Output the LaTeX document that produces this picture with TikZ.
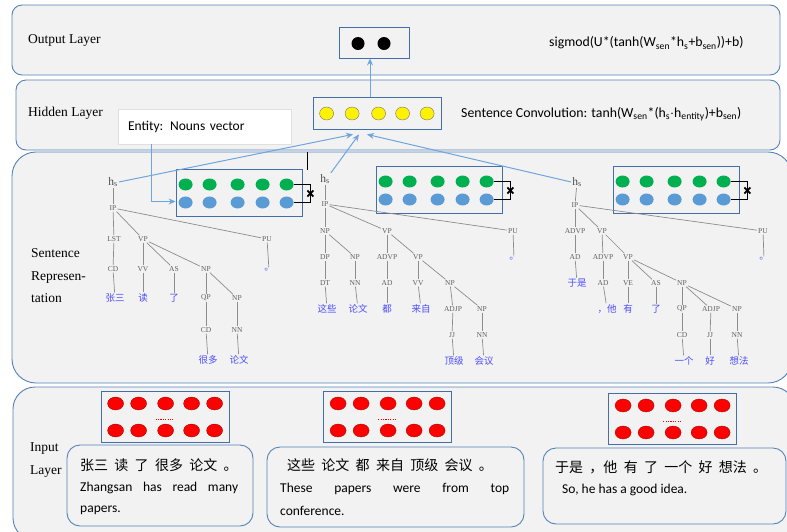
\documentclass[tikz,border=0pt]{standalone}
\usepackage{fontspec}
\usetikzlibrary{arrows.meta}
\setmainfont{Liberation Serif}
\newfontfamily\calfont{Carlito}
\newfontfamily\cjk[WordSpace=2]{Noto Sans CJK SC}
\definecolor{layerline}{RGB}{84,130,182}
\definecolor{layerfill}{RGB}{242,242,242}
\definecolor{boxline}{RGB}{68,110,170}
\definecolor{arrowblue}{RGB}{110,165,220}
\definecolor{vgreen}{RGB}{0,176,80}
\definecolor{vblue}{RGB}{91,155,213}
\definecolor{tagcol}{RGB}{96,96,96}
\definecolor{branchcol}{RGB}{140,140,140}
\definecolor{leafcol}{RGB}{77,77,255}
\begin{document}
\begin{tikzpicture}[x=1pt, y=-1pt,
    every node/.style={inner sep=1pt},
    layerbox/.style={draw=layerline, fill=layerfill, line width=0.9pt},
    layername/.style={anchor=west, align=left, font=\fontsize{13.5}{22.5}\selectfont},
    formula/.style={anchor=west, font=\calfont\fontsize{13.8}{15}\selectfont},
    vecbox/.style={draw=boxline, line width=0.8pt, minimum width=126, minimum height=47},
    inbox/.style={draw=boxline, line width=0.8pt, minimum width=128, minimum height=51},
    textbox/.style={draw=layerline, fill=layerfill, line width=0.9pt, rounded corners=13},
    zhline/.style={anchor=west, font=\cjk\fontsize{14}{16}\selectfont},
    enline/.style={anchor=west, font=\calfont\fontsize{13.5}{16}\selectfont},
    tagname/.style={text=tagcol, font=\fontsize{7.5}{8}\selectfont},
    leaf/.style={text=leafcol, font=\cjk\fontsize{9.5}{10}\selectfont},
    hs/.style={text=tagcol!80!black, font=\fontsize{11.5}{12}\selectfont},
    branch/.style={draw=branchcol, line width=0.7pt},
    uparrow/.style={draw=arrowblue, line width=1pt, -{Stealth[length=7pt, width=6pt]}},
    bracket/.style={draw=black, line width=1.3pt},
    redball/.style={fill=red, draw=red!60!black, line width=0.3pt},
  ]
    \useasboundingbox (0,0) rectangle (787,531);
    \clip (0,0) rectangle (787,531);

    % Layers
    \draw[layerbox, rounded corners=10] (12,5) rectangle (780,75);
    \draw[layerbox, rounded corners=10] (16,80) rectangle (780,150);
    \draw[layerbox, rounded corners=24] (12,152) rectangle (792,383);
    \draw[layerbox, rounded corners=22] (13,387) rectangle (795,540);

    % Output layer
    \node[layername] (outname) at (27,40) {Output Layer};
    \node[draw=boxline, line width=0.8pt, minimum width=70, minimum height=31] (outbox) at (374,42.5) {};
    \fill ([shift={(-16,1)}]outbox.center) ellipse (6.5 and 6.5);
    \fill ([shift={(10,1)}]outbox.center) ellipse (6.5 and 6.5);
    \node[formula] (outfun) at (548,43) {sigmod(U*(tanh(W\textsubscript{sen}*h\textsubscript{s}+b\textsubscript{sen}))+b)};

    % Hidden layer
    \node[layername] (hidname) at (27,113) {Hidden Layer};
    \node[draw=boxline, line width=0.8pt, minimum width=128, minimum height=32] (hidden) at (377,113) {};
    \foreach \dx in {14,39.5,66,90,114.5}
      \filldraw[fill=yellow, draw=black!55, line width=0.4pt] ([shift={(\dx,0.5)}]hidden.west) ellipse (7 and 6.5);
    \node[formula] (hidfun) at (460,114) {Sentence Convolution: tanh(W\textsubscript{sen}*(h\textsubscript{s}$\cdot$h\textsubscript{entity})+b\textsubscript{sen})};
    \node[draw=black!12, fill=white, minimum height=35, text width=153, inner sep=10pt, align=left,
          font=\calfont\fontsize{13.5}{15}\selectfont] (entity) at (204.5,126.5) {Entity: Nouns vector};

    % Sentence representation
    \node[layername] (senname) at (30,276) {Sentence\\Represen-\\tation};
    \draw[line width=0.8pt] (307,152) -- (307,170);
    \node[vecbox] (lvec) at (239,192.5) {};
    \node[vecbox] (mvec) at (439,189.5) {};
    \node[vecbox] (rvec) at (676,189.5) {};
    \foreach \v in {lvec,mvec,rvec} {
      \foreach \dx in {10,34,62,87,111} {
        \fill[vgreen] ([shift={(\dx,-8)}]\v.west) ellipse (7 and 6);
        \fill[vblue] ([shift={(\dx,10)}]\v.west) ellipse (7 and 6);
      }
      \draw[bracket] ([shift={(118,-8)}]\v.west) -| ([shift={(8,10)}]\v.east) -- ([shift={(118,10)}]\v.west);
      \draw[line width=1.8pt] ([shift={(5,-2)}]\v.east) -- ([shift={(11,4)}]\v.east)
                              ([shift={(5,4)}]\v.east) -- ([shift={(11,-2)}]\v.east);
    }

    % Tree 1
    \node[hs] (lhs) at (113,182) {h\textsubscript{s}};
    \node[tagname] (lip) at (113,208) {IP};
    \node[tagname] (llst) at (114,239) {LST};
    \node[tagname] (lvp) at (143,239) {VP};
    \node[tagname] (lpu) at (267,239) {PU};
    \node[tagname] (lcd) at (113,269) {CD};
    \node[tagname] (lvv) at (143,269) {VV};
    \node[tagname] (las) at (174,269) {AS};
    \node[tagname] (lnp) at (206,269) {NP};
    \node[tagname] (lqp) at (206,298) {QP};
    \node[tagname] (lnp2) at (237,298) {NP};
    \node[tagname] (lcd2) at (206,330) {CD};
    \node[tagname] (lnn) at (237,330) {NN};
    \node[leaf] (lw1) at (115,298) {张三};
    \node[leaf] (lw2) at (143,298) {读};
    \node[leaf] (lw3) at (174,298) {了};
    \node[leaf] (lw4) at (208,360) {很多};
    \node[leaf] (lw5) at (239,360) {论文};
    \node[leaf] (lw6) at (269,270) {。};
    \foreach \p/\c in {lhs/lip, lip/llst, lip/lvp, lip/lpu, llst/lcd, lcd/lw1, lvp/lvv, lvp/las, lvp/lnp,
                       lvv/lw2, las/lw3, lnp/lqp, lnp/lnp2, lqp/lcd2, lcd2/lw4, lnp2/lnn, lnn/lw5, lpu/lw6}
      \draw[branch] (\p) -- (\c);

    % Tree 2
    \node[hs] (mhs) at (325,179) {h\textsubscript{s}};
    \node[tagname] (mip) at (325,204) {IP};
    \node[tagname] (mnp) at (325,231) {NP};
    \node[tagname] (mvp) at (387,231) {VP};
    \node[tagname] (mpu) at (513,231) {PU};
    \node[tagname] (mdp) at (325,257) {DP};
    \node[tagname] (mnp2) at (355,257) {NP};
    \node[tagname] (madvp) at (387,257) {ADVP};
    \node[tagname] (mvp2) at (418,257) {VP};
    \node[tagname] (mdt) at (325,283) {DT};
    \node[tagname] (mnn) at (355,283) {NN};
    \node[tagname] (mad) at (387,283) {AD};
    \node[tagname] (mvv) at (418,283) {VV};
    \node[tagname] (mnp3) at (450,283) {NP};
    \node[tagname] (madjp) at (453,309) {ADJP};
    \node[tagname] (mnp4) at (482,309) {NP};
    \node[tagname] (mjj) at (452,335) {JJ};
    \node[tagname] (mnn2) at (482,335) {NN};
    \node[leaf] (mw1) at (327,309) {这些};
    \node[leaf] (mw2) at (358,309) {论文};
    \node[leaf] (mw3) at (387,309) {都};
    \node[leaf] (mw4) at (421,309) {来自};
    \node[leaf] (mw5) at (454,361) {顶级};
    \node[leaf] (mw6) at (484,361) {会议};
    \node[leaf] (mw7) at (514,259) {。};
    \foreach \p/\c in {mhs/mip, mip/mnp, mip/mvp, mip/mpu, mnp/mdp, mnp/mnp2, mdp/mdt, mdt/mw1, mnp2/mnn,
                       mnn/mw2, mvp/madvp, mvp/mvp2, madvp/mad, mad/mw3, mvp2/mvv, mvp2/mnp3, mvv/mw4,
                       mnp3/madjp, mnp3/mnp4, madjp/mjj, mjj/mw5, mnp4/mnn2, mnn2/mw6, mpu/mw7}
      \draw[branch] (\p) -- (\c);

    % Tree 3
    \node[hs] (rhs) at (577,182) {h\textsubscript{s}};
    \node[tagname] (rip) at (575,205) {IP};
    \node[tagname] (radvp) at (575,231) {ADVP};
    \node[tagname] (rvp) at (602,231) {VP};
    \node[tagname] (rpu) at (763,231) {PU};
    \node[tagname] (rad) at (575,257) {AD};
    \node[tagname] (radvp2) at (603,257) {ADVP};
    \node[tagname] (rvp2) at (628,257) {VP};
    \node[tagname] (rad2) at (603,283) {AD};
    \node[tagname] (rve) at (628,283) {VE};
    \node[tagname] (ras) at (656,283) {AS};
    \node[tagname] (rnp) at (682,283) {NP};
    \node[tagname] (rqp) at (682,309) {QP};
    \node[tagname] (radjp) at (711,309) {ADJP};
    \node[tagname] (rnp2) at (737,309) {NP};
    \node[tagname] (rcd) at (682,335) {CD};
    \node[tagname] (rjj) at (710,335) {JJ};
    \node[tagname] (rnn) at (737,335) {NN};
    \node[leaf] (rw1) at (577,283) {于是};
    \node[leaf] (rw2) at (607,309) {，他};
    \node[leaf] (rw3) at (628,309) {有};
    \node[leaf] (rw4) at (656,309) {了};
    \node[leaf] (rw5) at (684,361) {一个};
    \node[leaf] (rw6) at (710,361) {好};
    \node[leaf] (rw7) at (739,361) {想法};
    \node[leaf] (rw8) at (764,259) {。};
    \foreach \p/\c in {rhs/rip, rip/radvp, rip/rvp, rip/rpu, radvp/rad, rad/rw1, rvp/radvp2, rvp/rvp2,
                       radvp2/rad2, rad2/rw2, rvp2/rve, rvp2/ras, rvp2/rnp, rve/rw3, ras/rw4, rnp/rqp,
                       rnp/radjp, rnp/rnp2, rqp/rcd, rcd/rw5, radjp/rjj, rjj/rw6, rnp2/rnn, rnn/rw7, rpu/rw8}
      \draw[branch] (\p) -- (\c);

    % Arrows
    \draw[uparrow] ([xshift=-7pt]hidden.north) -- ([xshift=-7pt]hidden.north |- outbox.south);
    \draw[uparrow] ([shift={(-53.5,0)}]entity.south) |- ([shift={(0,9)}]lvec.west);
    \draw[uparrow] (lhs.east) -- ([shift={(-24,5)}]hidden.south);
    \draw[uparrow] (mhs.north east) -- ([shift={(-18,5)}]hidden.south);
    \draw[uparrow] (rhs.west) -- ([shift={(-10,5)}]hidden.south);

    % Input layer
    \node[layername] (inname) at (29,460) {Input\\Layer};
    \node[inbox] (in1) at (165,416.5) {};
    \node[inbox] (in2) at (387.5,416.5) {};
    \node[inbox] (in3) at (672.5,418.5) {};
    \foreach \v in {in1,in2,in3} {
      \foreach \dx in {15,38,65,91,114} {
        \draw[redball] ([shift={(\dx,-13)}]\v.west) ellipse (8 and 6.5);
        \draw[redball] ([shift={(\dx,14)}]\v.west) ellipse (8 and 6.5);
      }
      \draw[red, line width=1.3pt, dash pattern=on 1.2pt off 1.2pt] ([shift={(55,3)}]\v.west) -- ([shift={(72,3)}]\v.west);
    }
    \node[textbox, minimum width=186, minimum height=81] (s1) at (160,485.5) {};
    \node[textbox, minimum width=257, minimum height=80] (s2) at (395.5,487) {};
    \node[textbox, minimum width=243, minimum height=76] (s3) at (664.5,486) {};
    \node[zhline] (s1zh) at (79,465) {张三 读 了 很多 论文 。};
    \node[enline] (s1en) at (79,488) {\makebox[158pt][s]{Zhangsan has read many}};
    \node[enline] (s1en2) at (79,510) {papers.};
    \node[zhline] (s2zh) at (286,465) {这些 论文 都 来自 顶级 会议 。};
    \node[enline] (s2en) at (279,489) {\makebox[229pt][s]{These papers were from top}};
    \node[enline] (s2en2) at (279,511) {conference.};
    \node[zhline] (s3zh) at (554,467) {于是 ，他 有 了 一个 好 想法 。};
    \node[enline] (s3en) at (561,490) {So, he has a good idea.};
\end{tikzpicture}
\end{document}
